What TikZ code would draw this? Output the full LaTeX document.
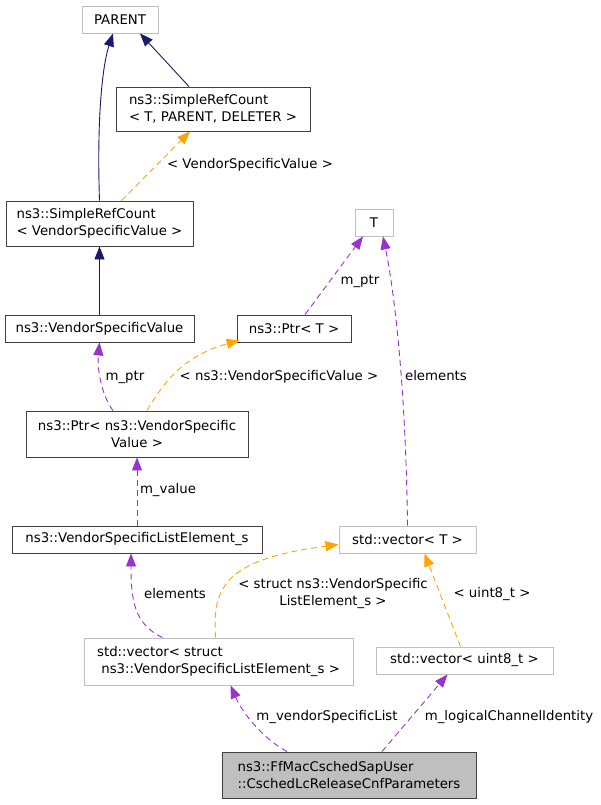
\documentclass[tikz,border=0pt]{standalone}
\usepackage{fontspec}
\setmainfont{DejaVu Sans}
\usetikzlibrary{arrows.meta}

\definecolor{mitternacht}{HTML}{191970}
\definecolor{lila}{HTML}{9A32CD}
\definecolor{gelbrot}{HTML}{FFA500}
\definecolor{rahmen}{HTML}{404040}
\definecolor{hellrahmen}{HTML}{BFBFBF}

\begin{document}
\begin{tikzpicture}[x=1pt,y=-1pt,
	every node/.style={font=\fontsize{13.3}{17}\selectfont,inner sep=0pt},
	klasse/.style={draw=rahmen,fill=white,line width=0.9pt,minimum height=27pt},
	extern/.style={klasse,draw=hellrahmen},
	haupt/.style={klasse,fill=hellrahmen},
	spitze/.style={-{Triangle[length=13pt,width=10pt]}},
	erbt/.style={spitze,draw=mitternacht,line width=0.9pt},
	nutzt/.style={spitze,draw=lila,line width=0.9pt,dash pattern=on 6pt off 4pt},
	vorlage/.style={spitze,draw=gelbrot,line width=0.9pt,dash pattern=on 6pt off 4pt}
]

\useasboundingbox (0,0) rectangle (600,805);

% Klassen
\node[extern,minimum width=76pt] (parent) at (120,19.5) {PARENT};
\node[klasse,minimum width=194pt,minimum height=44pt,align=left] (srct) at (213,109)
	{ns3::SimpleRefCount\\< T, PARENT, DELETER >};
\node[klasse,minimum width=187pt,minimum height=45pt,align=left] (srcv) at (99.5,223.5)
	{ns3::SimpleRefCount\\< VendorSpecificValue >};
\node[extern,minimum width=38pt] (t) at (374,222.5) {T};
\node[klasse,minimum width=189pt] (vsv) at (99.5,328.5) {ns3::VendorSpecificValue};
\node[klasse,minimum width=114pt] (ptrt) at (294,328.5) {ns3::Ptr< T >};
\node[klasse,minimum width=222pt,minimum height=46pt,align=center] (ptrv) at (137,434)
	{ns3::Ptr< ns3::VendorSpecific\\Value >};
\node[klasse,minimum width=250pt] (vsle) at (137,539.5) {ns3::VendorSpecificListElement\_s};
\node[extern,minimum width=137pt] (vect) at (407.5,539.5) {std::vector< T >};
\node[extern,minimum width=269pt,minimum height=47pt,align=left] (vecs) at (218.5,661.5)
	{std::vector< struct\\ \ ns3::VendorSpecificListElement\_s >};
\node[extern,minimum width=177pt] (vecu) at (464.5,660.5) {std::vector< uint8\_t >};
\node[haupt,minimum width=254pt,minimum height=46pt,align=left] (main) at (349,775)
	{ns3::FfMacCschedSapUser\\::CschedLcReleaseCnfParameters};

% Vererbung
\draw[erbt] (srcv.north) .. controls (97,130) and (101,70) .. ([xshift=-7pt]parent.south);
\draw[erbt] ([xshift=-24pt]srct.north) -- ([xshift=20pt]parent.south);
\draw[erbt] (vsv.north) -- (srcv.south);

% Vorlagen
\draw[vorlage] ([xshift=22pt]srcv.north) -- ([xshift=-23pt]srct.south);
\draw[vorlage] ([xshift=10pt]ptrv.north) .. controls (162,385) and (182,356)
	.. ([xshift=3pt,yshift=2pt]ptrt.south west);
\draw[vorlage] ([xshift=-3pt]vecs.north) .. controls (213,590) and (220,560)
	.. ([yshift=-5pt]vect.west);
\draw[vorlage] ([xshift=-4pt]vecu.north) -- ([xshift=17pt]vect.south);

% Attribute
\draw[nutzt] ([xshift=-24pt]ptrv.north) .. controls (102,396) and (97,370) .. (vsv.south);
\draw[nutzt] ([xshift=11pt]ptrt.north) -- ([xshift=-11pt]t.south);
\draw[nutzt] (vect.north) .. controls (406,400) and (396,300) .. ([xshift=9pt]t.south);
\draw[nutzt] (vsle.north) -- (ptrv.south);
\draw[nutzt] ([xshift=-56pt]vecs.north) .. controls (134,624) and (131,600) .. ([xshift=-6pt]vsle.south);
\draw[nutzt] ([xshift=-62pt]main.north) .. controls (262,738) and (242,712) .. ([xshift=12pt]vecs.south);
\draw[nutzt] ([xshift=33pt]main.north) -- ([xshift=-17pt]vecu.south);

% Beschriftungen
\node (l1) at (250,165) {< VendorSpecificValue >};
\node (l2) at (125,377) {m\_ptr};
\node (l3) at (279,377) {< ns3::VendorSpecificValue >};
\node (l4) at (360,281) {m\_ptr};
\node (l5) at (436,376) {elements};
\node (l6) at (168,490) {m\_value};
\node (l7) at (175,594) {elements};
\node[align=center] (l8) at (333,594) {< struct ns3::VendorSpecific\\ListElement\_s >};
\node (l9) at (492,594) {< uint8\_t >};
\node (l10) at (327,717) {m\_vendorSpecificList};
\node (l11) at (509,717) {m\_logicalChannelIdentity};

\end{tikzpicture}
\end{document}
